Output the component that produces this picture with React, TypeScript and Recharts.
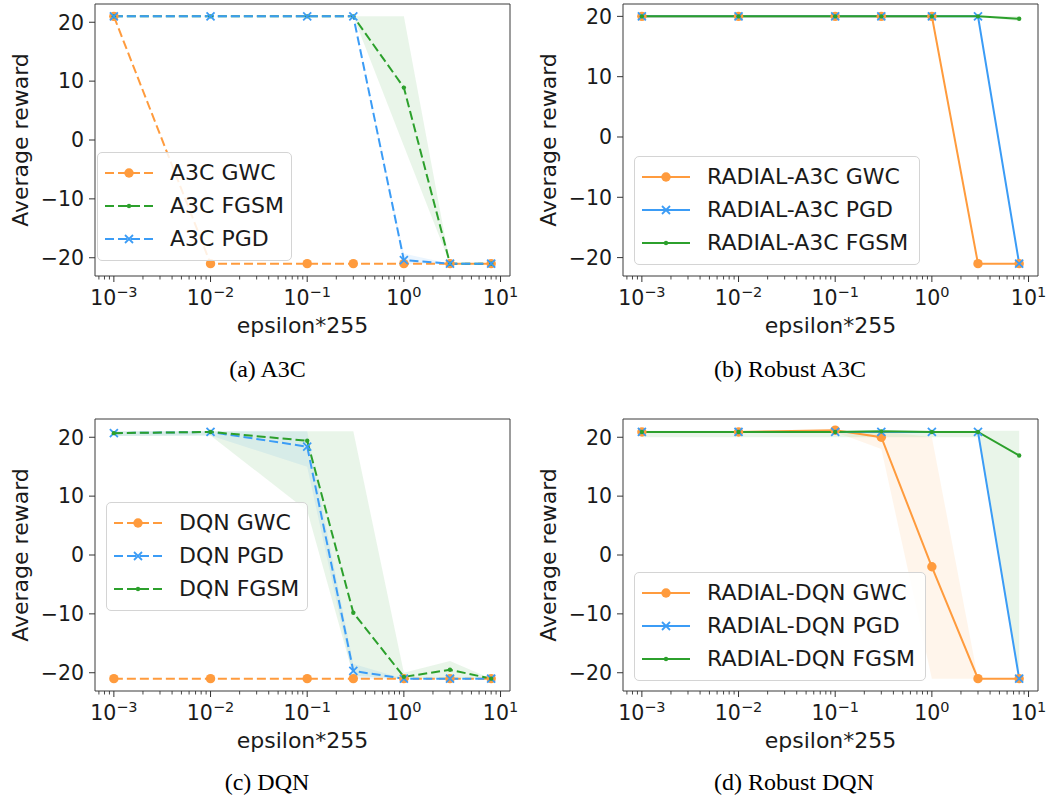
import React from 'react';
import { ComposedChart, Line, Area, XAxis, YAxis, ReferenceArea, Legend } from 'recharts';

// ---------- shared x positions & ticks ----------
const EPS = [0.001, 0.01, 0.1, 0.3, 1, 3, 8];
const X_MAJOR_TICKS = [0.001, 0.01, 0.1, 1, 10];
const X_MINOR_MULT = [2, 3, 4, 5, 6, 7, 8, 9];
const X_MINOR_DECADES = [0.0001, 0.001, 0.01, 0.1, 1];
const Y_TICKS = [-20, -10, 0, 10, 20];
const X_DOMAIN = [0.000638, 12.53];

// ---------- (a) A3C ----------
const A3C_GWC = [21, -21, -21, -21, -21, -21, -21];
const A3C_FGSM = [21, 21, 21, 21, 8.9, -21, -21];
const A3C_FGSM_LO = [21, 21, 21, 21, -1, -21, -21];
const A3C_FGSM_HI = [21, 21, 21, 21, 21, -21, -21];
const A3C_PGD = [21, 21, 21, 21, -20.4, -21, -21];
const A3C_PGD_LO = [21, 21, 21, 21, -21, -21, -21];
const A3C_PGD_HI = [21, 21, 21, 21, -19.3, -21, -21];

// ---------- (b) Robust A3C ----------
const RA3C_GWC = [20, 20, 20, 20, 20, -21, -21];
const RA3C_PGD = [20, 20, 20, 20, 20, 20, -21];
const RA3C_FGSM = [20, 20, 20, 20, 20, 20, 19.6];
const RA3C_FGSM_LO = [20, 20, 20, 20, 20, 20, 19.2];
const RA3C_FGSM_HI = [20, 20, 20, 20, 20, 20, 20];

// ---------- (c) DQN ----------
const DQN_GWC = [-21, -21, -21, -21, -21, -21, -21];
const DQN_PGD = [20.7, 20.9, 18.4, -19.7, -21, -21, -21];
const DQN_PGD_LO = [20.2, 20.3, 15, -21, -21, -21, -21];
const DQN_PGD_HI = [21, 21, 21, -18.5, -21, -21, -21];
const DQN_FGSM = [20.7, 20.9, 19.4, -9.8, -20.7, -19.5, -21];
const DQN_FGSM_LO = [20.2, 20.3, 7.5, -20.5, -21, -21, -21];
const DQN_FGSM_HI = [21, 21, 21, 21, -20, -18, -21];

// ---------- (d) Robust DQN ----------
const RDQN_GWC = [20.9, 20.9, 21.2, 20.0, -2.0, -21, -21];
const RDQN_GWC_LO = [20.9, 20.9, 20.9, 18, -21, -21, -21];
const RDQN_GWC_HI = [20.9, 20.9, 21.2, 21, 20, -21, -21];
const RDQN_PGD = [20.9, 20.9, 20.9, 20.9, 20.9, 20.9, -21];
const RDQN_FGSM = [20.9, 20.9, 20.9, 21, 20.9, 20.9, 16.9];
const RDQN_FGSM_LO = [20, 20, 20, 20, 20, 20, -21];
const RDQN_FGSM_HI = [21.1, 21.1, 21.1, 21.1, 21.1, 21.1, 21.1];

const ORANGE = '#ff9b3d';
const BLUE = '#3b9cf6';
const GREEN = '#2ca02c';
const FONT = 'DejaVu Sans';
const TEXT = '#1a1a1a';

type Series = {
  name: string;
  values: number[];
  lo?: number[];
  hi?: number[];
  color: string;
  dashed: boolean;
  marker: 'o' | 'x' | '.';
};

const X_TICKS: number[] = (() => {
  const t: number[] = [...X_MAJOR_TICKS];
  X_MINOR_DECADES.forEach((d) =>
    X_MINOR_MULT.forEach((m) => {
      const v = m * d;
      if (v > X_DOMAIN[0] && v < X_DOMAIN[1]) t.push(v);
    })
  );
  return t.sort((a, b) => a - b);
})();

function renderMarker(kind: string, cx: number, cy: number, color: string, key?: string) {
  if (kind === 'o') return <circle key={key} cx={cx} cy={cy} r={4.7} fill={color} />;
  if (kind === '.') return <circle key={key} cx={cx} cy={cy} r={2.2} fill={color} />;
  const s = 4;
  return (
    <g key={key}>
      <line x1={cx - s} y1={cy - s} x2={cx + s} y2={cy + s} stroke={color} strokeWidth={1.8} />
      <line x1={cx - s} y1={cy + s} x2={cx + s} y2={cy - s} stroke={color} strokeWidth={1.8} />
    </g>
  );
}

const XTick = (props: any) => {
  const { x, y, payload } = props;
  const v = payload.value;
  const e = Math.log10(v);
  const major = Math.abs(e - Math.round(e)) < 1e-6;
  if (!major) {
    return <line x1={x} y1={y} x2={x} y2={y + 3.5} stroke="#333" strokeWidth={0.9} />;
  }
  const ex = Math.round(e);
  return (
    <g>
      <line x1={x} y1={y} x2={x} y2={y + 6} stroke="#333" strokeWidth={1} />
      <text x={x} y={y + 29} textAnchor="middle" fontFamily={FONT} fill={TEXT}>
        <tspan fontSize={20.5}>10</tspan>
        <tspan fontSize={14.5} dy={-8.5}>{ex < 0 ? '\u2212' + -ex : String(ex)}</tspan>
      </text>
    </g>
  );
};

const fmtY = (v: number) => (v < 0 ? '\u2212' + Math.abs(v) : String(v));

const CHART_W = 527;
const CHART_H = 345;
const M_TOP = 4;
const M_RIGHT = 17;
const M_BOTTOM = 9;
const Y_W = 95;
const X_H = 60;

function LegendBox({ series, width }: { series: Series[]; width: number }) {
  return (
    <div
      style={{
        width,
        boxSizing: 'border-box',
        background: 'rgba(255,255,255,0.85)',
        border: '1px solid #d4d4d4',
        borderRadius: 5,
        padding: '3px 0 4px 0',
      }}
    >
      {series.map((s, i) => (
        <div key={i} style={{ height: 33.4, display: 'flex', alignItems: 'center' }}>
          <svg width={72} height={20} style={{ flex: 'none' }}>
            <line
              x1={7}
              y1={10}
              x2={55}
              y2={10}
              stroke={s.color}
              strokeWidth={2}
              strokeDasharray={s.dashed ? '9 4' : undefined}
            />
            {renderMarker(s.marker, 31, 10, s.color)}
          </svg>
          <span style={{ fontFamily: FONT, fontSize: 22, color: TEXT, whiteSpace: 'nowrap', lineHeight: 1 }}>
            {s.name}
          </span>
        </div>
      ))}
    </div>
  );
}

function Panel({
  left,
  top,
  series,
  yDomain,
  legend,
}: {
  left: number;
  top: number;
  series: Series[];
  yDomain: number[];
  legend: { x: number; y: number; w: number };
}) {
  const data = EPS.map((x, i) => {
    const row: any = { x };
    series.forEach((s, j) => {
      row['v' + j] = s.values[i];
      row['b' + j] = [s.lo ? s.lo[i] : s.values[i], s.hi ? s.hi[i] : s.values[i]];
    });
    return row;
  });
  const plotW = CHART_W - M_RIGHT - Y_W;
  const plotH = CHART_H - M_TOP - M_BOTTOM - X_H;
  return (
    <div style={{ position: 'absolute', left, top }}>
      <ComposedChart
        width={CHART_W}
        height={CHART_H}
        data={data}
        margin={{ top: M_TOP, right: M_RIGHT, bottom: M_BOTTOM, left: 0 }}
      >
        <XAxis
          dataKey="x"
          type="number"
          scale="log"
          domain={X_DOMAIN}
          allowDataOverflow
          ticks={X_TICKS}
          interval={0}
          tick={(p: any) => <XTick {...p} />}
          tickLine={false}
          axisLine={false}
          tickSize={0}
          tickMargin={0}
          height={X_H}
          label={{
            value: 'epsilon*255',
            content: () => (
              <text
                x={Y_W + plotW / 2}
                y={M_TOP + plotH + 57}
                textAnchor="middle"
                fontFamily={FONT}
                fontSize={22}
                fill={TEXT}
              >
                epsilon*255
              </text>
            ),
          }}
        />
        <YAxis
          type="number"
          domain={yDomain}
          allowDataOverflow
          ticks={Y_TICKS}
          interval={0}
          width={Y_W}
          tickSize={6}
          tickMargin={5}
          tickFormatter={fmtY}
          axisLine={false}
          tickLine={{ stroke: '#333' }}
          tick={{ fontSize: 20.5, fill: TEXT, fontFamily: FONT }}
          label={{
            value: 'Average reward',
            content: () => (
              <text
                x={20}
                y={M_TOP + plotH / 2}
                transform={`rotate(-90, 20, ${M_TOP + plotH / 2})`}
                textAnchor="middle"
                dominantBaseline="central"
                fontFamily={FONT}
                fontSize={22}
                fill={TEXT}
              >
                Average reward
              </text>
            ),
          }}
        />
        {series.map((s, j) => (
          <Area
            key={'b' + j}
            dataKey={'b' + j}
            type="linear"
            stroke="none"
            fill={s.color}
            fillOpacity={0.1}
            isAnimationActive={false}
            legendType="none"
            activeDot={false}
            dot={false}
          />
        ))}
        {series.map((s, j) => (
          <Line
            key={'v' + j}
            dataKey={'v' + j}
            name={s.name}
            type="linear"
            stroke={s.color}
            strokeWidth={2}
            strokeDasharray={s.dashed ? '9 4' : undefined}
            isAnimationActive={false}
            activeDot={false}
            dot={(p: any) => renderMarker(s.marker, p.cx, p.cy, s.color, `m${j}-${p.index}`)}
          />
        ))}
        <ReferenceArea
          x1={X_DOMAIN[0]}
          x2={X_DOMAIN[1]}
          y1={yDomain[0]}
          y2={yDomain[1]}
          fill="none"
          stroke="#3a3a3a"
          strokeWidth={1}
          ifOverflow="visible"
        />
        <Legend
          layout="vertical"
          align="center"
          verticalAlign="middle"
          wrapperStyle={{ left: legend.x, top: legend.y, width: legend.w, height: 'auto' }}
          content={() => <LegendBox series={series} width={legend.w} />}
        />
      </ComposedChart>
    </div>
  );
}

const SERIES_A: Series[] = [
  { name: 'A3C GWC', values: A3C_GWC, color: ORANGE, dashed: true, marker: 'o' },
  { name: 'A3C FGSM', values: A3C_FGSM, lo: A3C_FGSM_LO, hi: A3C_FGSM_HI, color: GREEN, dashed: true, marker: '.' },
  { name: 'A3C PGD', values: A3C_PGD, lo: A3C_PGD_LO, hi: A3C_PGD_HI, color: BLUE, dashed: true, marker: 'x' },
];
const SERIES_B: Series[] = [
  { name: 'RADIAL-A3C GWC', values: RA3C_GWC, color: ORANGE, dashed: false, marker: 'o' },
  { name: 'RADIAL-A3C PGD', values: RA3C_PGD, color: BLUE, dashed: false, marker: 'x' },
  { name: 'RADIAL-A3C FGSM', values: RA3C_FGSM, lo: RA3C_FGSM_LO, hi: RA3C_FGSM_HI, color: GREEN, dashed: false, marker: '.' },
];
const SERIES_C: Series[] = [
  { name: 'DQN GWC', values: DQN_GWC, color: ORANGE, dashed: true, marker: 'o' },
  { name: 'DQN PGD', values: DQN_PGD, lo: DQN_PGD_LO, hi: DQN_PGD_HI, color: BLUE, dashed: true, marker: 'x' },
  { name: 'DQN FGSM', values: DQN_FGSM, lo: DQN_FGSM_LO, hi: DQN_FGSM_HI, color: GREEN, dashed: true, marker: '.' },
];
const SERIES_D: Series[] = [
  { name: 'RADIAL-DQN GWC', values: RDQN_GWC, lo: RDQN_GWC_LO, hi: RDQN_GWC_HI, color: ORANGE, dashed: false, marker: 'o' },
  { name: 'RADIAL-DQN PGD', values: RDQN_PGD, color: BLUE, dashed: false, marker: 'x' },
  { name: 'RADIAL-DQN FGSM', values: RDQN_FGSM, lo: RDQN_FGSM_LO, hi: RDQN_FGSM_HI, color: GREEN, dashed: false, marker: '.' },
];

const CAPTIONS = [
  { text: '(a) A3C', x: 267.5, y: 376.5 },
  { text: '(b) Robust A3C', x: 790, y: 376.5 },
  { text: '(c) DQN', x: 267, y: 789.5 },
  { text: '(d) Robust DQN', x: 794, y: 789.5 },
];

export default function App() {
  return (
    <div style={{ position: 'absolute', left: 0, top: 0, width: 1054, height: 800, background: '#fff', overflow: 'hidden' }}>
      <Panel left={0} top={0} series={SERIES_A} yDomain={[-23.1, 23.1]} legend={{ x: 97, y: 152, w: 195 }} />
      <Panel left={528} top={0} series={SERIES_B} yDomain={[-23.05, 22.05]} legend={{ x: 106, y: 156, w: 286 }} />
      <Panel left={0} top={415} series={SERIES_C} yDomain={[-23.1, 23.1]} legend={{ x: 106, y: 87, w: 202 }} />
      <Panel left={528} top={415} series={SERIES_D} yDomain={[-23.1, 23.1]} legend={{ x: 106, y: 157, w: 292 }} />
      <svg width={1054} height={800} style={{ position: 'absolute', left: 0, top: 0, pointerEvents: 'none' }}>
        {CAPTIONS.map((c, i) => (
          <text key={i} x={c.x} y={c.y} textAnchor="middle" fontFamily="Liberation Serif" fontSize={24} fill="#000">
            {c.text}
          </text>
        ))}
      </svg>
    </div>
  );
}
